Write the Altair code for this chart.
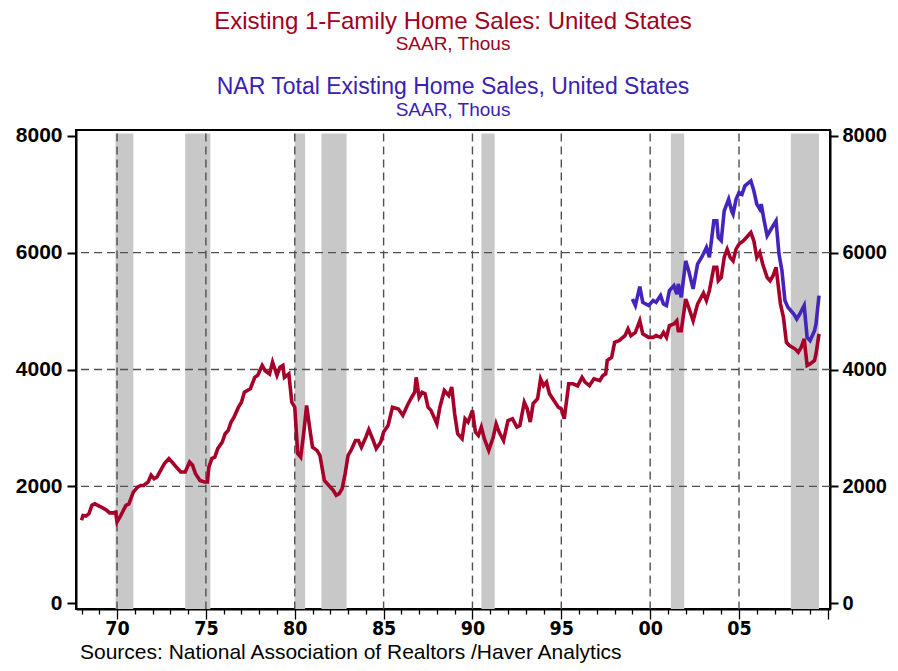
import altair as alt
import pandas as pd

# ---------------- data ----------------
red_months = [
    "1968-01","1968-02","1968-04","1968-06","1968-08","1968-10",
    "1969-01","1969-03","1969-06","1969-08","1969-10","1969-12",
    "1970-01","1970-03","1970-07","1970-09","1970-12",
    "1971-03","1971-05","1971-07","1971-10","1971-12",
    "1972-02","1972-04","1972-07","1972-09","1972-12",
    "1973-03","1973-05","1973-08","1973-11",
    "1974-02","1974-04","1974-06","1974-09","1974-12",
    "1975-02","1975-03","1975-05","1975-07","1975-09","1975-12",
    "1976-02","1976-04","1976-06","1976-08","1976-11",
    "1977-01","1977-03","1977-07","1977-10","1977-12",
    "1978-03","1978-05","1978-08","1978-10",
    "1979-01","1979-03","1979-05","1979-06","1979-09","1979-11",
    "1980-01","1980-03","1980-05","1980-07","1980-09","1980-11",
    "1981-01","1981-04","1981-06","1981-09","1981-12",
    "1982-03","1982-05","1982-07","1982-09","1982-11",
    "1983-01","1983-03","1983-06","1983-08","1983-10",
    "1984-01","1984-03","1984-06","1984-08","1984-11",
    "1985-01","1985-04","1985-07","1985-11",
    "1986-02","1986-05","1986-08","1986-10","1986-11",
    "1987-01","1987-03","1987-05","1987-07","1987-09",
    "1988-01","1988-03","1988-06","1988-09","1988-11",
    "1989-01","1989-03","1989-06","1989-08","1989-10",
    "1990-01","1990-03","1990-05","1990-07","1990-09","1990-12",
    "1991-03","1991-05","1991-07","1991-10",
    "1992-01","1992-04","1992-07","1992-09","1992-12",
    "1993-02","1993-04","1993-06","1993-09","1993-11",
    "1994-01","1994-03","1994-05","1994-08","1994-11",
    "1995-01","1995-03","1995-06","1995-09","1995-12",
    "1996-03","1996-05","1996-08","1996-11",
    "1997-03","1997-05","1997-07","1997-08","1997-11",
    "1998-01","1998-04","1998-08","1998-10","1998-12",
    "1999-03","1999-06","1999-08","1999-12",
    "2000-03","2000-05","2000-08","2000-10","2000-12",
    "2001-02","2001-05","2001-07","2001-08","2001-10",
    "2002-01","2002-03","2002-06","2002-09",
    "2003-01","2003-03","2003-05","2003-08","2003-10","2003-11",
    "2004-01","2004-03","2004-05","2004-07","2004-09","2004-11",
    "2005-01","2005-04","2005-06","2005-09","2005-11",
    "2006-01","2006-03","2006-05","2006-08","2006-10","2006-12",
    "2007-02","2007-05","2007-07","2007-09","2007-11",
    "2008-03","2008-05","2008-07","2008-09","2008-11",
    "2009-01","2009-04","2009-05","2009-07",
]
red_values = [
    1420, 1500, 1490, 1530, 1675, 1700,
    1660, 1635, 1590, 1545, 1545, 1560,
    1390, 1475, 1675, 1700, 1900,
    1990, 2015, 2015, 2075, 2190,
    2130, 2160, 2300, 2390, 2475,
    2390, 2330, 2245, 2245,
    2415, 2360, 2215, 2100, 2075,
    2075, 2330, 2475, 2500, 2645, 2755,
    2900, 2955, 3100, 3185, 3355,
    3440, 3610, 3670, 3865, 3900,
    4070, 3980, 3925, 4125,
    3900, 4040, 4070, 3865, 3925, 3440,
    3355, 2560, 2500, 2900, 3385, 3015,
    2670, 2615, 2530, 2100, 2015,
    1930, 1845, 1875, 1960, 2215,
    2530, 2615, 2785, 2785, 2670,
    2840, 2970, 2785, 2645, 2755,
    2930, 3040, 3355, 3325,
    3215, 3385, 3525, 3610, 3865,
    3525, 3610, 3585, 3355, 3300,
    3070, 3355, 3640, 3555, 3700,
    3240, 2900, 2815, 3155, 3100,
    3300, 2930, 2870, 3015, 2815, 2615,
    2840, 3070, 2930, 2785,
    3125, 3155, 3015, 3040, 3440,
    3325, 3100, 3415, 3500, 3840,
    3725, 3785, 3585, 3470, 3355,
    3325, 3155, 3755, 3755, 3720,
    3865, 3785, 3725, 3840,
    3810, 3895, 3925, 4155, 4210,
    4465, 4495, 4580, 4695, 4580,
    4635, 4835, 4610, 4550,
    4550, 4580, 4550, 4635, 4550,
    4750, 4780, 4835, 4665, 4665,
    5205, 5065, 4835, 5120,
    5310, 5180, 5350, 5750, 5750, 5520,
    5575, 5920, 6060, 5920, 5860, 6060,
    6145, 6205, 6260, 6345, 6205,
    5920, 6005, 5805, 5575, 5520, 5605,
    5750, 5120, 4895, 4465, 4410,
    4350, 4295, 4380, 4525, 4070,
    4095, 4155, 4265, 4610,
]

blue_months = [
    "1999-01","1999-03","1999-06","1999-08","1999-12",
    "2000-03","2000-05","2000-08","2000-10","2000-12",
    "2001-02","2001-05","2001-07","2001-08","2001-10",
    "2002-01","2002-03","2002-06","2002-09","2002-12",
    "2003-03","2003-05","2003-08","2003-10","2003-11",
    "2004-01","2004-03","2004-06","2004-08","2004-09","2004-11",
    "2005-01","2005-03","2005-05","2005-09","2005-11",
    "2006-01","2006-03","2006-04","2006-06","2006-08","2006-10",
    "2007-02","2007-04","2007-06","2007-08","2007-10",
    "2008-02","2008-04","2008-06","2008-09","2008-11",
    "2009-01","2009-04","2009-05","2009-07",
]
blue_values = [
    5205, 5095, 5420, 5150, 5095,
    5180, 5150, 5265, 5120, 5095,
    5350, 5435, 5290, 5465, 5235,
    5860, 5690, 5380, 5805, 5930,
    6090, 5920, 6545, 6545, 6260,
    6205, 6715, 6915, 6715, 6660, 6915,
    7030, 7000, 7145, 7230, 7060,
    6830, 6745, 6830, 6545, 6290, 6375,
    6545, 5975, 5690, 5180, 5065,
    4950, 4865, 4950, 5095, 4550,
    4495, 4665, 4780, 5265,
]

recession_start = ["1969-12", "1973-11", "1980-01", "1981-07", "1990-07", "2001-03", "2007-12"]
recession_end = ["1970-11", "1975-03", "1980-07", "1982-11", "1991-03", "2001-11", "2009-06"]

y_tick_values = [0, 2000, 4000, 6000, 8000]
h_grid_values = [2000, 4000, 6000]
v_grid_years = [1970, 1975, 1980, 1985, 1990, 1995, 2000, 2005]
year_ticks = list(range(1968, 2011))

title_red = ["Existing 1-Family Home Sales: United States", "SAAR, Thous"]
title_blue = ["NAR Total Existing Home Sales, United States", "SAAR, Thous"]
source_text = "Sources:  National Association of Realtors /Haver Analytics"

# ---------------- styling ----------------
RED = "#A6002A"
BLUE = "#4424BC"
RED_T = "#A00020"
BLUE_T = "#3B20B4"
SHADE = "#C8C8C8"
GRID = "#505050"
FONT = "Liberation Sans, Arial, sans-serif"
NARROW = "Liberation Sans Narrow, DejaVu Sans Condensed, sans-serif"

X_DOM = [1967.69, 2010.12]
Y_DOM = [-100, 8100]
SHADE_TOP = 8040


def dec_start(s):
    y, m = s.split("-")
    return int(y) + (int(m) - 1) / 12.0


def dec_end(s):
    y, m = s.split("-")
    return int(y) + int(m) / 12.0


red_df = pd.DataFrame({"t": [dec_start(s) for s in red_months], "v": red_values})
blue_df = pd.DataFrame({"t": [dec_start(s) for s in blue_months], "v": blue_values})
rec_df = pd.DataFrame({"a": [dec_start(s) for s in recession_start],
                       "b": [dec_end(s) for s in recession_end]})
vgrid_df = pd.DataFrame({"g": v_grid_years})
hgrid_df = pd.DataFrame({"g": h_grid_values})

xs = alt.Scale(domain=X_DOM, nice=False, zero=False)
ys = alt.Scale(domain=Y_DOM, nice=False, zero=False)

x_axis = alt.Axis(
    values=year_ticks,
    labelExpr="(datum.value % 5 === 0 && datum.value < 2010) ? substring(toString(datum.value), 2, 4) : ''",
    tickSize={"condition": {"test": "datum.value % 5 === 0", "value": 10}, "value": 5},
    tickColor="black", tickWidth=1.3,
    domainColor="black", domainWidth=2,
    labelFont=NARROW, labelFontSize=19.5, labelColor="black", labelFontWeight="bold",
    labelPadding=0, labelOverlap=False, labelFlush=False, grid=False, title=None,
)

shade = alt.Chart(rec_df).mark_rect(color=SHADE).encode(
    x=alt.X("a:Q", scale=xs, axis=x_axis),
    x2="b:Q",
    y=alt.datum(SHADE_TOP, type="quantitative", scale=ys, axis=None),
    y2=alt.datum(Y_DOM[0]),
)

vgrid = alt.Chart(vgrid_df).mark_rule(color=GRID, strokeDash=[8, 5], strokeWidth=1.4).encode(
    x=alt.X("g:Q", scale=xs, axis=x_axis),
    y=alt.datum(SHADE_TOP, type="quantitative", scale=ys, axis=None),
    y2=alt.datum(Y_DOM[0]),
)

hgrid = alt.Chart(hgrid_df).mark_rule(color=GRID, strokeDash=[8, 5], strokeWidth=1.4).encode(
    y=alt.Y("g:Q", scale=ys, axis=None),
)

left_axis = alt.Axis(
    orient="left", values=y_tick_values, format="d", grid=False, title=None,
    tickColor="black", tickWidth=2, tickSize=9,
    domainColor="black", domainWidth=2,
    labelFont=FONT, labelFontSize=21, labelColor="black", labelPadding=5,
    labelFontWeight="bold",
)
right_axis = alt.Axis(
    orient="right", values=y_tick_values, format="d", grid=False, title=None,
    tickColor="black", tickWidth=2, tickSize=8,
    domainColor="black", domainWidth=2,
    labelFont=FONT, labelFontSize=20, labelColor="black", labelPadding=4,
    labelFontWeight="bold",
)

red_line = alt.Chart(red_df).mark_line(color=RED, strokeWidth=3.6).encode(
    x=alt.X("t:Q", scale=xs, axis=x_axis),
    y=alt.Y("v:Q", scale=ys, axis=left_axis),
)
blue_line = alt.Chart(blue_df).mark_line(color=BLUE, strokeWidth=3.6).encode(
    x=alt.X("t:Q", scale=xs, axis=x_axis),
    y=alt.Y("v:Q", scale=ys, axis=right_axis),
)


def text_layer(txt, x, y, size, color, align="center", font=FONT):
    return alt.Chart(pd.DataFrame({"s": [txt]})).mark_text(
        align=align, baseline="alphabetic", fontSize=size, color=color, font=font
    ).encode(text="s:N", x=alt.value(x), y=alt.value(y))


texts = [
    text_layer(title_red[0], 377, -101, 24, RED_T),
    text_layer(title_red[1], 377, -80, 19, RED_T),
    text_layer(title_blue[0], 377, -36, 23, BLUE_T),
    text_layer(title_blue[1], 377, -14, 19, BLUE_T),
    text_layer(source_text, 4, 529, 21, "black", align="left"),
]

chart = alt.layer(shade, vgrid, hgrid, red_line, blue_line, *texts).resolve_scale(
    y="shared", x="shared"
).resolve_axis(y="independent").properties(
    width=754, height=479,
    padding={"left": 68, "top": 122, "right": 60, "bottom": 54},
    autosize=alt.AutoSizeParams(type="none"),
).configure_view(stroke="black", strokeWidth=2)

chart.save("out.html", embed_options={"renderer": "svg", "actions": False})
